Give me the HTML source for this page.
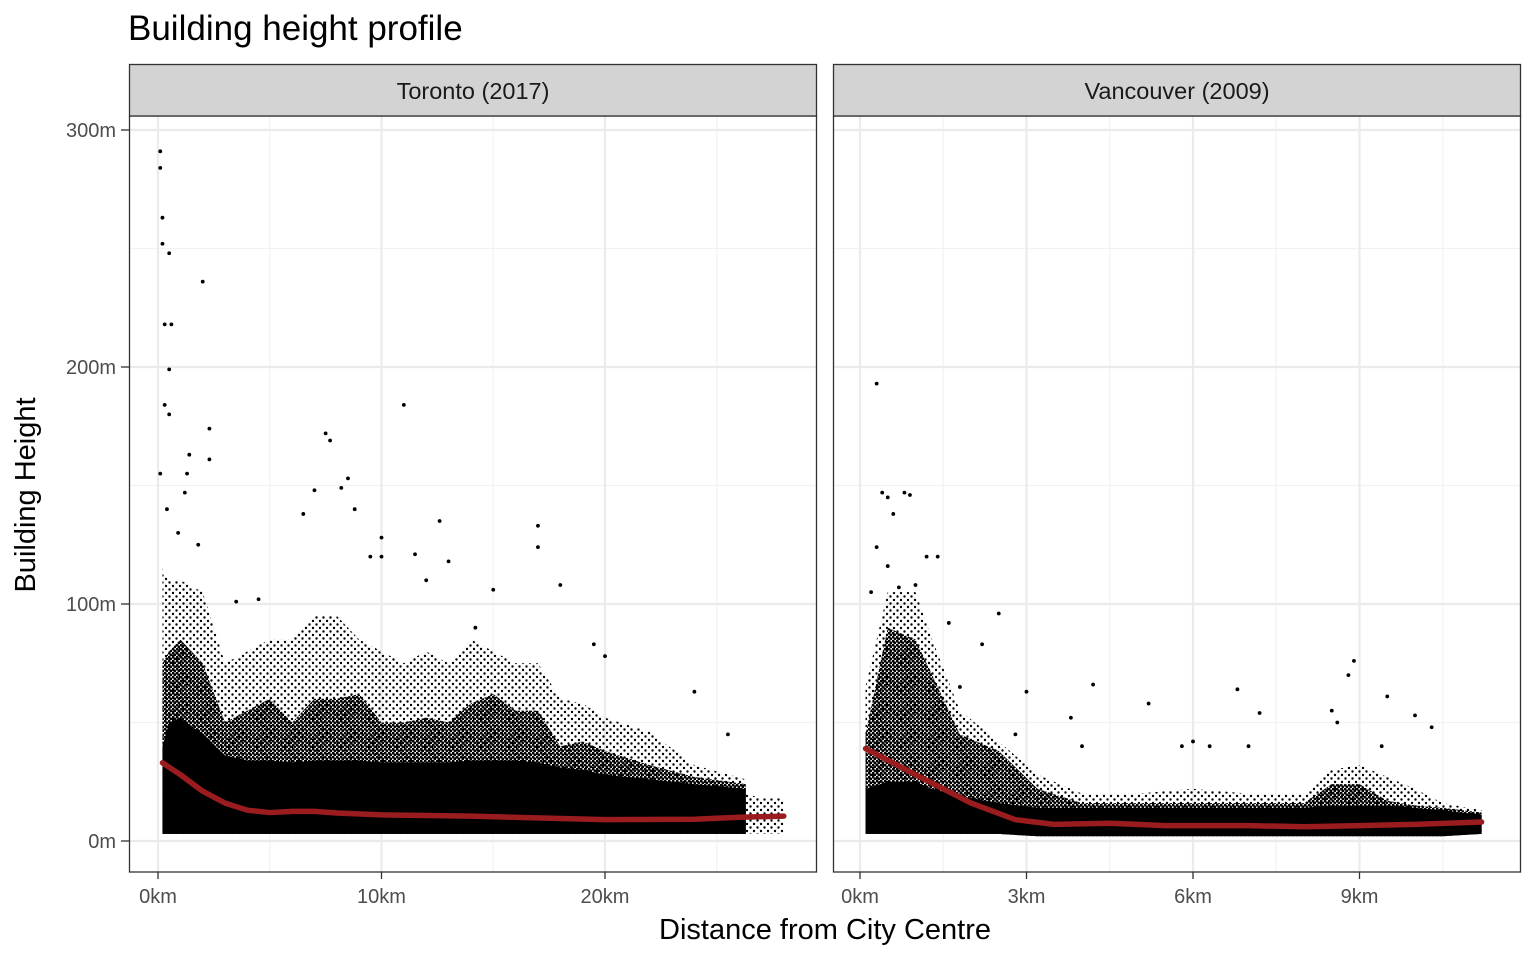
<!DOCTYPE html>
<html><head><meta charset="utf-8"><style>
body{margin:0;background:#fff;}
svg{display:block;font-family:"Liberation Sans",Arial,sans-serif;}
</style></head><body>
<svg id="chart" width="1536" height="960" viewBox="0 0 1536 960">
<defs>
<pattern id="dense" width="4" height="4" patternUnits="userSpaceOnUse"><circle cx="1" cy="1" r="1.5" fill="#000"/><circle cx="3" cy="3" r="1.5" fill="#000"/></pattern>
<pattern id="sparse" width="7" height="7" patternUnits="userSpaceOnUse"><circle cx="1.5" cy="1.5" r="1.2" fill="#000"/><circle cx="5" cy="5" r="1.2" fill="#000"/></pattern>
<clipPath id="clipT"><rect x="129" y="116" width="688" height="756"/></clipPath>
<clipPath id="clipV"><rect x="833" y="116" width="688" height="756"/></clipPath>
</defs>
<text x="128" y="40" font-size="35" fill="#000">Building height profile</text>
<g id="panels"></g>
<text x="825" y="939" font-size="29" text-anchor="middle" fill="#000">Distance from City Centre</text>
<text transform="translate(35,495) rotate(-90)" font-size="29" text-anchor="middle" fill="#000">Building Height</text>
</svg>
<script>
// ---- Data ----
const yTicks = [0, 100, 200, 300];
const yTickLabels = ["0m", "100m", "200m", "300m"];
// Toronto
const torTicks = [0, 10, 20];
const torTickLabels = ["0km", "10km", "20km"];
const torBinX = [0.2, 0.5, 1, 2, 3, 4, 5, 6, 7, 8, 9, 10, 11, 12, 13, 14, 15, 16, 17, 18, 19, 20, 22, 24, 26.3];
const torCoreHi = [40, 50, 52, 45, 36, 34, 34, 33, 34, 34, 34, 33, 33, 33, 33, 34, 34, 34, 33, 31, 30, 28, 26, 24, 22];
const torCoreLo = [3, 3, 3, 3, 3, 3, 3, 3, 3, 3, 3, 3, 3, 3, 3, 3, 3, 3, 3, 3, 3, 3, 3, 3, 3];
const torMidHi = [75, 80, 85, 75, 50, 55, 60, 50, 60, 60, 62, 50, 50, 52, 50, 58, 62, 55, 55, 40, 42, 38, 32, 27, 24];
const torCloudHi = [115, 110, 110, 105, 75, 80, 85, 85, 95, 95, 85, 80, 75, 80, 75, 85, 80, 75, 75, 60, 58, 52, 46, 32, 26];
const torTailX = [26.3, 27, 27.5, 28];
const torTailHi = [20, 18, 18, 18];
const torTailLo = [3, 3, 3, 3];
const torOutX = [0.1, 0.1, 0.2, 0.2, 0.5, 0.3, 0.6, 0.5, 2, 0.3, 0.5, 2.3, 2.3, 0.1, 1.4, 11, 7.5, 7.7, 8.2, 8.5, 6.5, 7, 12.6, 17, 17, 9.5, 10, 10, 11.5, 13, 15, 18, 19.5, 20, 24, 25.5, 3.5, 4.5, 1.3, 1.2, 0.4, 0.9, 1.8, 8.8, 12, 14.2];
const torOutY = [284, 291, 263, 252, 248, 218, 218, 199, 236, 184, 180, 174, 161, 155, 163, 184, 172, 169, 149, 153, 138, 148, 135, 133, 124, 120, 128, 120, 121, 118, 106, 108, 83, 78, 63, 45, 101, 102, 155, 147, 140, 130, 125, 140, 110, 90];
const torSmoothX = [0.2, 1, 2, 3, 4, 5, 6, 7, 8, 10, 14, 18, 20, 24, 26, 28];
const torSmoothY = [33, 28, 21, 16, 13, 12, 12.5, 12.5, 11.8, 11, 10.5, 9.5, 9, 9.2, 10, 10.5];
// Vancouver
const vanTicks = [0, 3, 6, 9];
const vanTickLabels = ["0km", "3km", "6km", "9km"];
const vanBinX = [0.1, 0.5, 1, 1.3, 1.8, 2.5, 3.2, 4, 5, 6, 7, 8, 8.5, 9, 9.5, 10, 10.5, 11.2];
const vanCoreHi = [22, 25, 25, 22, 19, 16, 14, 14, 14, 14, 14, 14, 15, 15, 15, 14, 13, 11];
const vanCoreLo = [3, 3, 3, 3, 3, 3, 2, 2, 2, 2, 2, 2, 2, 2, 2, 2, 2, 3];
const vanMidHi = [45, 90, 85, 70, 45, 38, 22, 16, 16, 16, 16, 16, 24, 24, 17, 15, 14, 12];
const vanCloudHi = [65, 105, 105, 85, 55, 42, 28, 20, 20, 22, 20, 20, 30, 32, 27, 22, 16, 13];
const vanOutX = [0.3, 0.4, 0.5, 0.6, 0.8, 0.9, 1.2, 1.4, 0.3, 0.5, 0.7, 1.6, 2.5, 2.2, 1.8, 4.2, 3.0, 6.8, 7.2, 8.9, 8.8, 5.2, 9.5, 10.0, 10.3, 3.8, 6.0, 6.3, 5.8, 8.5, 8.6, 7.0, 4.0, 2.8, 9.4, 0.2, 1.0];
const vanOutY = [193, 147, 145, 138, 147, 146, 120, 120, 124, 116, 107, 92, 96, 83, 65, 66, 63, 64, 54, 76, 70, 58, 61, 53, 48, 52, 42, 40, 40, 55, 50, 40, 40, 45, 40, 105, 108];
const vanSmoothX = [0.1, 1, 2, 2.8, 3.5, 4.5, 5.5, 7, 8, 9, 10, 11.2];
const vanSmoothY = [39, 28, 16, 9, 7, 7.5, 6.5, 6.5, 6, 6.5, 7, 8];

// ---- Scales ----
const yScale = v => 841 - v * 2.37;
const torX = v => 158 + v * 22.35;
const vanX = v => 860 + v * 55.5;
const NS = "http://www.w3.org/2000/svg";
const root = document.getElementById("panels");
function mk(tag, attrs, parent) {
  const e = document.createElementNS(NS, tag);
  for (const k in attrs) e.setAttribute(k, attrs[k]);
  (parent || root).appendChild(e);
  return e;
}
function bandPath(xs, lo, hi, xf) {
  let d = "M" + xs.map((x, i) => xf(x) + "," + yScale(hi[i])).join("L");
  for (let i = xs.length - 1; i >= 0; i--) d += "L" + xf(xs[i]) + "," + yScale(lo[i]);
  return d + "Z";
}
function panel(px, label, name, xf, ticks, tickLabels, binX, coreLo, coreHi, midHi, cloudHi, outX, outY, smX, smY, clip, tail) {
  const g = mk("g", {});
  
  
  mk("rect", {x: px, y: 116, width: 688, height: 756, fill: "#fff"}, g);
  const minorY = [50, 150, 250];
  minorY.forEach(v => mk("line", {x1: px, x2: px + 688, y1: yScale(v), y2: yScale(v), stroke: "#f2f2f2", "stroke-width": 1.2}, g));
  for (let i = 0; i < ticks.length; i++) {
    const step = ticks[1] - ticks[0];
    const mx = xf(ticks[i] + step / 2);
    if (mx < px + 688) mk("line", {x1: mx, x2: mx, y1: 116, y2: 872, stroke: "#f2f2f2", "stroke-width": 1.2}, g);
  }
  yTicks.forEach(v => mk("line", {x1: px, x2: px + 688, y1: yScale(v), y2: yScale(v), stroke: "#ebebeb", "stroke-width": 2.2}, g));
  ticks.forEach(v => mk("line", {x1: xf(v), x2: xf(v), y1: 116, y2: 872, stroke: "#ebebeb", "stroke-width": 2.2}, g));
  const data = mk("g", {"clip-path": "url(#" + clip + ")"}, g);
  const cloud = mk("path", {d: bandPath(binX, coreLo, cloudHi, xf), fill: "url(#sparse)"}, data);
  
  
  const mid = mk("path", {d: bandPath(binX, coreLo, midHi, xf), fill: "url(#dense)"}, data);
  
  
  const core = mk("path", {d: bandPath(binX, coreLo, coreHi, xf), fill: "#000"}, data);
  
  
  if (tail) {
    const t = mk("path", {d: bandPath(tail[0], tail[2], tail[1], xf), fill: "url(#sparse)"}, data);
    
    
  }
  for (let i = 0; i < outX.length; i++) {
    const c = mk("circle", {cx: xf(outX[i]), cy: yScale(outY[i]), r: 1.9, fill: "#000"}, data);
    
    
  }
  const line = mk("polyline", {points: smX.map((x, i) => xf(x) + "," + yScale(smY[i])).join(" "), fill: "none", stroke: "#9b1c1f", "stroke-width": 5.5, "stroke-linejoin": "round", "stroke-linecap": "round"}, data);
  
  
  mk("rect", {x: px + 0.5, y: 116, width: 687, height: 756, fill: "none", stroke: "#333", "stroke-width": 1.3}, g);
  const strip = mk("rect", {x: px + 0.5, y: 64.5, width: 687, height: 51.5, fill: "#d3d3d3", stroke: "#333", "stroke-width": 1.3}, g);
  
  
  const st = mk("text", {x: px + 344, y: 99, "font-size": 23.5, "text-anchor": "middle", fill: "#1a1a1a"}, g);
  st.textContent = label;
  
  
  ticks.forEach((v, i) => {
    mk("line", {x1: xf(v), x2: xf(v), y1: 872, y2: 879, stroke: "#333", "stroke-width": 1.3}, g);
    const t = mk("text", {x: xf(v), y: 903, "font-size": 20, "text-anchor": "middle", fill: "#4d4d4d"}, g);
    t.textContent = tickLabels[i];
    
    
  });
}
panel(129, "Toronto (2017)", "toronto", torX, torTicks, torTickLabels, torBinX, torCoreLo, torCoreHi, torMidHi, torCloudHi, torOutX, torOutY, torSmoothX, torSmoothY, "clipT", [torTailX, torTailHi, torTailLo]);
panel(833, "Vancouver (2009)", "vancouver", vanX, vanTicks, vanTickLabels, vanBinX, vanCoreLo, vanCoreHi, vanMidHi, vanCloudHi, vanOutX, vanOutY, vanSmoothX, vanSmoothY, "clipV", null);
yTicks.forEach((v, i) => {
  mk("line", {x1: 121, x2: 129, y1: yScale(v), y2: yScale(v), stroke: "#333", "stroke-width": 1.3});
  const t = mk("text", {x: 116, y: yScale(v) + 7, "font-size": 20, "text-anchor": "end", fill: "#4d4d4d"});
  t.textContent = yTickLabels[i];
  
  
});
</script>
</body></html>
